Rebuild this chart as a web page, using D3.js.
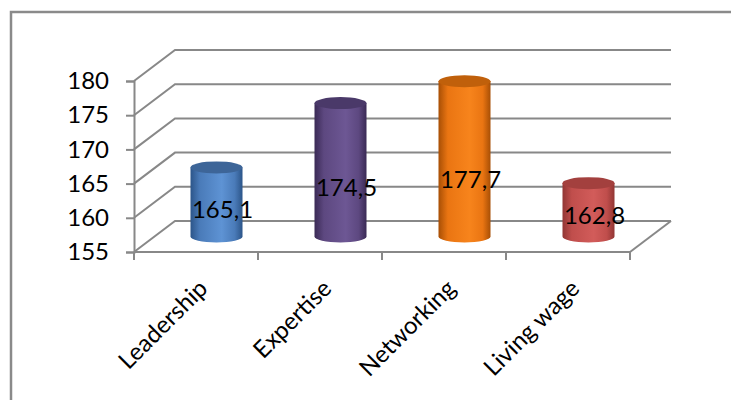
<!DOCTYPE html>
<html><head><meta charset="utf-8">
<script src="https://cdn.jsdelivr.net/npm/d3@7"></script>
<style>body{margin:0;background:#fff}svg{display:block}</style>
</head><body>
<script>
const categories = ["Leadership", "Expertise", "Networking", "Living wage"];
const values = [165.1, 174.5, 177.7, 162.8];
const valueLabels = ["165,1", "174,5", "177,7", "162,8"];
const yTicks = [155, 160, 165, 170, 175, 180];
const palette = [
  {dark: "#2c5589", mid: "#4a7bb9", light: "#5e93d4", top: "#3d6598"},
  {dark: "#3a2a55", mid: "#5d4880", light: "#6d5794", top: "#4a3969"},
  {dark: "#a84f05", mid: "#ea7512", light: "#f7841c", top: "#c0600b"},
  {dark: "#923634", mid: "#c04e4c", light: "#d25c5a", top: "#a3403e"}
];

const W = 731, H = 400;
const svg = d3.select("body").append("svg").attr("width", W).attr("height", H);
const font = "Lato, 'Open Sans', sans-serif";
const grid = "#888888";

// border
svg.append("path").attr("d", `M11,${H+5} L11,12 L${W+5},12`).attr("fill", "none")
  .attr("stroke", "#8a8a8a").attr("stroke-width", 2.5);

const y = d3.scaleLinear().domain([155, 180]).range([252, 81]);
const x = d3.scaleBand().domain(categories).range([134, 630]);
const dx = 41, dy = -31;

// gridlines (back wall + left diagonal)
yTicks.forEach(t => {
  const yy = y(t);
  svg.append("path")
    .attr("d", `M${x.range()[0]},${yy} L${x.range()[0]+dx},${yy+dy} L${x.range()[1]+dx},${yy+dy}`)
    .attr("fill", "none").attr("stroke", grid).attr("stroke-width", 2);
});
// floor right edge
svg.append("line").attr("x1", x.range()[1]).attr("y1", y(155)).attr("x2", x.range()[1]+dx).attr("y2", y(155)+dy)
  .attr("stroke", grid).attr("stroke-width", 2);

// y axis
const yAxis = d3.axisLeft(y).tickValues(yTicks).tickSize(8).tickPadding(17).tickFormat(d3.format("d"));
const gy = svg.append("g").attr("transform", `translate(${x.range()[0]},0)`).call(yAxis);
gy.select(".domain").attr("stroke", grid).attr("stroke-width", 2);
gy.selectAll(".tick line").attr("stroke", grid).attr("stroke-width", 2);
gy.selectAll(".tick text").attr("font-family", font).attr("font-size", 24).attr("fill", "#000");

// x axis
const gx = svg.append("g").attr("transform", `translate(0,${y(155)})`);
gx.append("line").attr("x1", x.range()[0]).attr("x2", x.range()[1]).attr("stroke", grid).attr("stroke-width", 2);
const edges = categories.map(c => x(c)).concat([x.range()[1]]);
gx.selectAll("line.tk").data(edges).enter().append("line").attr("class", "tk")
  .attr("x1", d => d).attr("x2", d => d).attr("y1", 0).attr("y2", 8)
  .attr("stroke", grid).attr("stroke-width", 2);
gx.selectAll("text").data(categories).enter().append("text")
  .attr("transform", d => `translate(${x(d) + x.bandwidth()/2 + 13},38) rotate(-45)`)
  .attr("text-anchor", "end").attr("font-family", font).attr("font-size", 24).attr("fill", "#000")
  .text(d => d);

// gradients
const defs = svg.append("defs");
palette.forEach((p, i) => {
  const g = defs.append("linearGradient").attr("id", "g" + i).attr("x1", "0").attr("x2", "1").attr("y1", "0").attr("y2", "0");
  [[0, p.dark], [0.18, p.mid], [0.6, p.light], [0.85, p.mid], [1, p.dark]].forEach(s =>
    g.append("stop").attr("offset", s[0]).attr("stop-color", s[1]));
});

// cylinders
const rx = 26, ry = 6;
const base = y(155) + dy / 2;
const bars = svg.selectAll("g.bar").data(values).enter().append("g").attr("class", "bar");
bars.each(function(v, i) {
  const g = d3.select(this);
  const cx = x(categories[i]) + x.bandwidth()/2 + dx/2;
  const top = y(v) + dy/2;
  g.append("path")
    .attr("d", `M${cx-rx},${top} L${cx-rx},${base} A${rx},${ry} 0 0 0 ${cx+rx},${base} L${cx+rx},${top} Z`)
    .attr("fill", `url(#g${i})`);
  g.append("ellipse").attr("cx", cx).attr("cy", top).attr("rx", rx).attr("ry", ry).attr("fill", palette[i].top);
  g.append("text").attr("x", cx + 6).attr("y", base - 0.35 * (base - top))
    .attr("dominant-baseline", "middle").attr("text-anchor", "middle")
    .attr("font-family", font).attr("font-size", 24).attr("fill", "#000")
    .text(valueLabels[i]);
});
</script>
</body></html>
